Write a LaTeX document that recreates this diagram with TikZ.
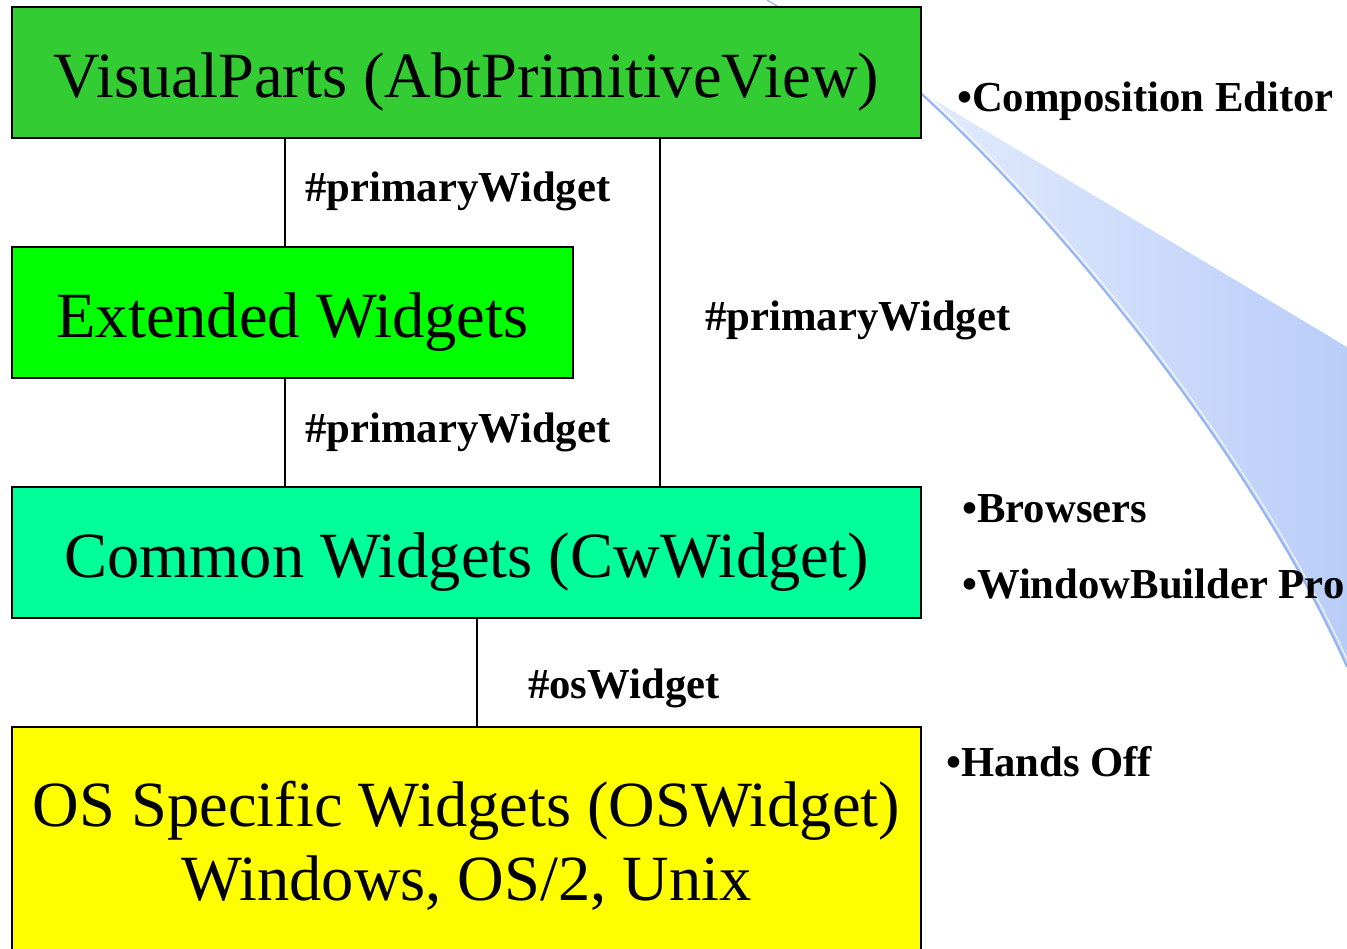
\documentclass[tikz,border=0pt]{standalone}
\usepackage{fontspec}
\setmainfont{Liberation Serif}
\definecolor{vpgreen}{HTML}{33CC33}
\definecolor{exgreen}{HTML}{00FF00}
\definecolor{cwgreen}{HTML}{00FF99}
\definecolor{osyellow}{HTML}{FFFF00}
\definecolor{swlight}{HTML}{F2F6FE}
\definecolor{swdark}{HTML}{B9CDF9}
\definecolor{swedge}{HTML}{93B3F2}
\begin{document}
\begin{tikzpicture}[x=1pt,y=-1pt,
  box/.style={draw=black, line width=2.2pt, rectangle, inner sep=0pt},
  title/.style={font=\fontsize{64.5}{77}\selectfont, anchor=base, inner sep=0pt},
  lbl/.style={font=\fontsize{42.7}{51}\selectfont\bfseries, anchor=base west, inner sep=0pt},
  conn/.style={draw=black, line width=1.8pt}]
\useasboundingbox (0,0) rectangle (1347,948);
\clip (0,0) rectangle (1347,948);
% swoosh
\shade[left color=swlight, right color=swdark]
  (767,0) -- (1347,347) -- (1347,667) .. controls (1250,450) and (1050,210) .. (915,88) -- cycle;
\draw[swedge, line width=1.2pt] (767,0) -- (915,88);
\draw[swedge, line width=2pt] (915,88) .. controls (1050,210) and (1250,450) .. (1347,667);
\draw[white, line width=0.9pt] (918,87) .. controls (1053,209) and (1253,449) .. (1350,666);
% boxes
\node[box, fill=vpgreen, minimum width=909pt, minimum height=131pt] (vp) at (466.5,72.5) {};
\node[box, fill=exgreen, minimum width=561pt, minimum height=131pt] (ew) at (292.5,312.5) {};
\node[box, fill=cwgreen, minimum width=909pt, minimum height=131pt] (cw) at (466.5,552.5) {};
\node[box, fill=osyellow, minimum width=909pt, minimum height=260pt] (os) at (466.5,857) {};
% titles
\node[title] (vpt) at ([yshift=-24.5pt]vp.center) {VisualParts (AbtPrimitiveView)};
\node[title] (ewt) at ([yshift=-24.5pt]ew.center) {Extended Widgets};
\node[title] (cwt) at ([yshift=-24.5pt]cw.center) {Common Widgets (CwWidget)};
\node[title] (os1) at ([yshift=-101pt]os.north) {OS Specific Widgets (OSWidget)};
\node[title] (os2) at ([yshift=-175pt]os.north) {Windows, OS/2, Unix};
% connectors
\coordinate (xa) at (285,0);
\coordinate (xb) at (660,0);
\coordinate (xc) at (477,0);
\draw[conn] (vp.south -| xa) -- (ew.north -| xa);
\draw[conn] (ew.south -| xa) -- (cw.north -| xa);
\draw[conn] (vp.south -| xb) -- (cw.north -| xb);
\draw[conn] (cw.south -| xc) -- (os.north -| xc);
% labels
\node[lbl] (l1) at (305,201.7) {\#primaryWidget};
\node[lbl] (l2) at (705,330) {\#primaryWidget};
\node[lbl] (l3) at (305,442) {\#primaryWidget};
\node[lbl] (l4) at (528,698) {\#osWidget};
\node[lbl] (s1) at (957,111.7) {•Composition Editor};
\node[lbl] (s2) at (962,522) {•Browsers};
\node[lbl] (s3) at (962,598) {•WindowBuilder Pro};
\node[lbl] (s4) at (946,776.7) {•Hands Off};
\end{tikzpicture}
\end{document}
